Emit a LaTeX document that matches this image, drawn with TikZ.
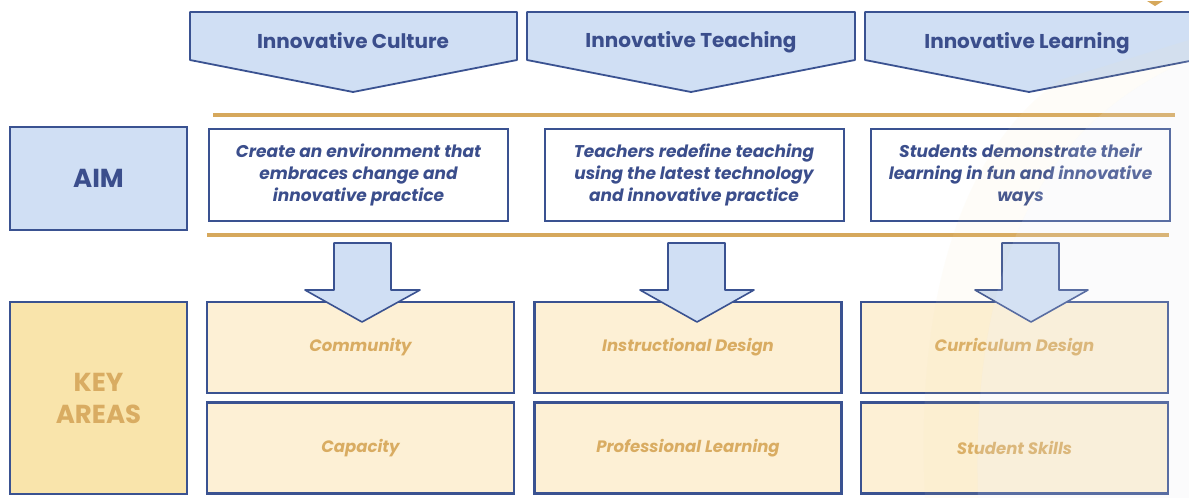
\documentclass[tikz,border=0pt]{standalone}
\usepackage{fontspec}
\setmainfont{Poppins}
\usetikzlibrary{positioning}
\definecolor{dblue}{HTML}{3A5291}
\definecolor{tblue}{HTML}{3B4E8C}
\definecolor{lblue}{HTML}{D0DFF4}
\definecolor{gold}{HTML}{D6A85C}
\definecolor{goldtxt}{HTML}{D9AC62}
\definecolor{keyfill}{HTML}{F9E4AB}
\definecolor{boxfill}{HTML}{FDF0D5}
\definecolor{haze}{HTML}{E9ECF2}
\begin{document}
\begin{tikzpicture}[x=1pt,y=-1pt,
  chev/.style={draw=dblue,line width=1.8pt,fill=lblue,line join=round},
  chevtxt/.style={text=tblue,font=\fontsize{20}{22}\selectfont\bfseries,inner sep=0pt},
  aimbox/.style={draw=dblue,line width=2pt,fill=white,minimum width=299pt,minimum height=92pt,inner sep=0pt,align=center,text=tblue,font=\fontsize{17}{22}\selectfont\bfseries\itshape},
  labbox/.style={draw=dblue,line width=2.6pt,minimum width=177pt,inner sep=0pt,align=center,font=\fontsize{26}{32}\selectfont\bfseries},
  keybox/.style={draw=dblue,line width=2.6pt,fill=boxfill,minimum width=307pt,minimum height=91pt,inner sep=0pt},
  keytxt/.style={text=goldtxt,font=\fontsize{16.5}{20}\selectfont\bfseries\itshape},
  goldline/.style={draw=gold,line width=3.5pt},
  blk/.style={draw=dblue,line width=1.6pt,fill=lblue,line join=round}]
\useasboundingbox (0,0) rectangle (1189,498);
\fill[white] (0,0) rectangle (1189,498);
% small triangle top right
\fill[gold] (1147,1) -- (1163,1) -- (1155,6) -- cycle;
% chevrons
\begin{scope}
\clip (0,0) rectangle (1189,498);
\draw[chev] (190,12) -- (517,12) -- (517,60) -- (353,92) -- (190,60) -- cycle;
\draw[chev] (527,12) -- (855,12) -- (855,60) -- (691,92) -- (527,60) -- cycle;
\draw[chev] (865,12) -- (1195,12) -- (1195,60) -- (1029,92) -- (865,60) -- cycle;
\end{scope}
\node[chevtxt] (c1) at (353,41) {Innovative Culture};
\node[chevtxt] (c2) at (691,42) {Innovative Teaching};
\node[chevtxt] (c3) at (1027,43) {Innovative Learning};
% gold lines
\draw[goldline] (213,115) -- (1175,115);
\draw[goldline] (207,235) -- (1169,235);
% AIM
\node[labbox,fill=lblue,text=tblue,minimum height=103pt] (aim) at (98.5,178.5) {AIM};
\node[aimbox] (a1) at (358.5,175) {Create an environment that\\embraces change and\\innovative practice};
\node[aimbox] (a2) at (694,175) {Teachers redefine teaching\\using the latest technology\\and innovative practice};
\node[aimbox] (a3) at (1020.5,175) {Students demonstrate their\\learning in fun and innovative\\ways};
% KEY AREAS
\node[labbox,fill=keyfill,text=goldtxt,minimum height=192pt] (key) at (98.5,398) {KEY\\AREAS};
\node[keybox] (k11) at (360.5,347.5) {};
\node[keybox] (k21) at (360.5,448) {};
\node[keybox] (k12) at (688,347.5) {};
\node[keybox] (k22) at (688,448) {};
\node[keybox] (k13) at (1014.5,347.5) {};
\node[keybox] (k23) at (1014.5,448) {};
% block arrows
\draw[blk] (334,243) -- (391,243) -- (391,290) -- (420,290) -- (362,322) -- (305,290) -- (334,290) -- cycle;
\draw[blk] (668,243) -- (725,243) -- (725,290) -- (754,290) -- (697,322) -- (640,290) -- (668,290) -- cycle;
\draw[blk] (1002,243) -- (1059,243) -- (1059,290) -- (1088,290) -- (1031,322) -- (975,290) -- (1002,290) -- cycle;
% key texts
\node[keytxt] (t11) at (k11) {Community};
\node[keytxt] (t21) at (k21) {Capacity};
\node[keytxt] (t12) at (k12) {Instructional Design};
\node[keytxt] (t22) at (k22) {Professional Learning};
\node[keytxt] (t13) at (k13) {Curriculum Design};
\node[keytxt] (t23) at (k23) {Student Skills};
% faint background haze
\fill[haze,fill opacity=0.18] (1189,60) .. controls (1050,120) and (970,250) .. (978,498) -- (1189,498) -- cycle;
\fill[keyfill,fill opacity=0.08] (1060,80) .. controls (960,150) and (915,300) .. (925,498) -- (978,498) .. controls (970,250) and (1050,120) .. (1189,60) -- (1189,40) -- cycle;
\end{tikzpicture}
\end{document}
